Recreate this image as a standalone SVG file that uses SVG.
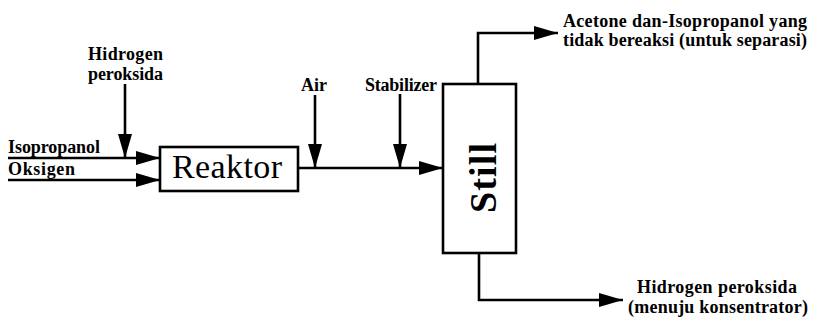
<svg xmlns="http://www.w3.org/2000/svg" width="813" height="324" viewBox="0 0 813 324">
<style>
.ln{fill:none;stroke:#000;stroke-width:2.6}
.box{fill:#fff;stroke:#000;stroke-width:2.6}
</style>
<defs>
<marker id="ah" viewBox="0 0 24 14" refX="24" refY="7" markerWidth="24" markerHeight="14" markerUnits="userSpaceOnUse" orient="auto">
<path d="M0,0 L24,7 L0,14 z" fill="#000"/>
</marker>
</defs>
<rect width="813" height="324" fill="#fff"/>
<g id="connectors">
<path class="ln" d="M8,158 H160" marker-end="url(#ah)"/>
<path class="ln" d="M8,180 H160" marker-end="url(#ah)"/>
<path class="ln" d="M125,84 V158" marker-end="url(#ah)"/>
<path class="ln" d="M298,168 H443" marker-end="url(#ah)"/>
<path class="ln" d="M315,95 V168" marker-end="url(#ah)"/>
<path class="ln" d="M400,94 V168" marker-end="url(#ah)"/>
<path class="ln" d="M478,84 V33 H558" marker-end="url(#ah)"/>
<path class="ln" d="M479,253 V300 H623" marker-end="url(#ah)"/>
</g>
<g id="reaktor">
<rect class="box" x="160" y="147" width="138" height="44"/>
<text x="227" y="178" text-anchor="middle" font-family="Liberation Serif, Times New Roman, serif" font-size="34" textLength="110">Reaktor</text>
</g>
<g id="still">
<rect class="box" x="443" y="84" width="73" height="169"/>
<text transform="translate(496,178) rotate(-90)" text-anchor="middle" font-family="Liberation Serif, Times New Roman, serif" font-weight="bold" font-size="38" textLength="70">Still</text>
</g>
<g id="labels" font-family="Liberation Serif, Times New Roman, serif" font-weight="bold" font-size="18" fill="#000">
<text x="8" y="153" textLength="92">Isopropanol</text>
<text x="8" y="175" textLength="67">Oksigen</text>
<text x="88" y="60" textLength="75">Hidrogen</text>
<text x="88" y="80" textLength="75">peroksida</text>
<text x="301" y="91" textLength="26">Air</text>
<text x="365" y="91" textLength="72">Stabilizer</text>
<text x="563" y="27" textLength="244">Acetone dan-Isopropanol yang</text>
<text x="563" y="46" textLength="244">tidak bereaksi (untuk separasi)</text>
<text x="637" y="293" textLength="160">Hidrogen peroksida</text>
<text x="628" y="313" textLength="180">(menuju konsentrator)</text>
</g>
</svg>
